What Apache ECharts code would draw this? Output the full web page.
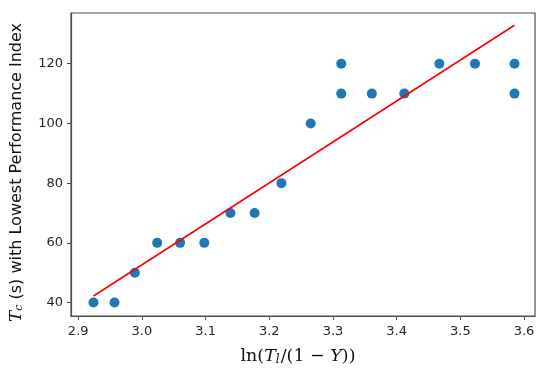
<!DOCTYPE html>
<html>
<head>
<meta charset="utf-8">
<script src="https://cdn.jsdelivr.net/npm/echarts@6/dist/echarts.min.js"></script>
<style>
  html, body { margin: 0; padding: 0; background: #fff; }
  #chart { width: 548px; height: 377px; }
</style>
</head>
<body>
<div id="chart"></div>
<script>
// data
var xVals = [2.924, 2.957, 2.989, 3.024, 3.060, 3.098, 3.139, 3.177, 3.219, 3.265, 3.313, 3.313, 3.361, 3.412, 3.467, 3.523, 3.585, 3.585];
var yVals = [40, 40, 50, 60, 60, 60, 70, 70, 80, 100, 120, 110, 110, 110, 120, 120, 120, 110];
// fitted line end points
var fitX = [2.924, 3.585];
var fitY = [42.2, 132.9];
var xTicks = [2.9, 3.0, 3.1, 3.2, 3.3, 3.4, 3.5, 3.6];
var yTicks = [40, 60, 80, 100, 120];

var points = xVals.map(function (x, i) { return [x, yVals[i]]; });
var fitLine = fitX.map(function (x, i) { return [x, fitY[i]]; });

var chart = echarts.init(document.getElementById("chart"));
var tickFont = { color: "#262626", fontSize: 13, fontFamily: "DejaVu Sans" };

var option = {
  animation: false,
  grid: {
    left: 69, right: 13, top: 13, bottom: 61,
    show: true, borderColor: "#4d4d4d", borderWidth: 1.2
  },
  xAxis: {
    type: "value",
    min: 2.8887,
    max: 3.6172,
    name: "{f|ln(}{i|T}{s|l}{f|/(1 − }{i|Y}{f|))}",
    nameLocation: "middle",
    nameGap: 31,
    nameTextStyle: {
      padding: [0, 10, 0, 0],
      rich: {
        f: { fontFamily: "DejaVu Serif", fontSize: 17.5, color: "#111" },
        i: { fontFamily: "DejaVu Serif", fontStyle: "italic", fontSize: 17.5, color: "#111" },
        s: { fontFamily: "DejaVu Serif", fontStyle: "italic", fontSize: 12, color: "#111", verticalAlign: "bottom", padding: [7, 1, 0, 0] }
      }
    },
    axisLine: { show: true, lineStyle: { color: "#4d4d4d", width: 1.2 } },
    axisTick: { show: true, length: 4, customValues: xTicks, lineStyle: { color: "#4d4d4d" } },
    axisLabel: Object.assign({
      customValues: xTicks,
      margin: 9,
      formatter: function (v) { return v.toFixed(1); }
    }, tickFont),
    splitLine: { show: false }
  },
  yAxis: {
    type: "value",
    min: 35.5,
    max: 137.0,
    name: "{i|T}{s|c}{t| (s) with Lowest Performance Index}",
    nameLocation: "middle",
    nameRotate: 90,
    nameGap: 46,
    nameTextStyle: {
      padding: [0, 16, 0, 0],
      rich: {
        i: { fontFamily: "DejaVu Serif", fontStyle: "italic", fontSize: 17, color: "#111" },
        s: { fontFamily: "DejaVu Serif", fontStyle: "italic", fontSize: 11, color: "#111", verticalAlign: "bottom", padding: [6, 0, 0, 0] },
        t: { fontFamily: "DejaVu Sans", fontSize: 16, color: "#111" }
      }
    },
    axisLine: { show: true, lineStyle: { color: "#4d4d4d", width: 1.2 } },
    axisTick: { show: true, length: 4, customValues: yTicks, lineStyle: { color: "#4d4d4d" } },
    axisLabel: Object.assign({
      customValues: yTicks,
      margin: 8
    }, tickFont),
    splitLine: { show: false }
  },
  series: [
    {
      type: "scatter",
      data: points,
      symbolSize: 10,
      itemStyle: { color: "#1f77b4", opacity: 1 },
      z: 2
    },
    {
      type: "line",
      data: fitLine,
      showSymbol: false,
      lineStyle: { color: "#ff0000", width: 1.6 },
      z: 3
    }
  ]
};

chart.setOption(option);
</script>
</body>
</html>
